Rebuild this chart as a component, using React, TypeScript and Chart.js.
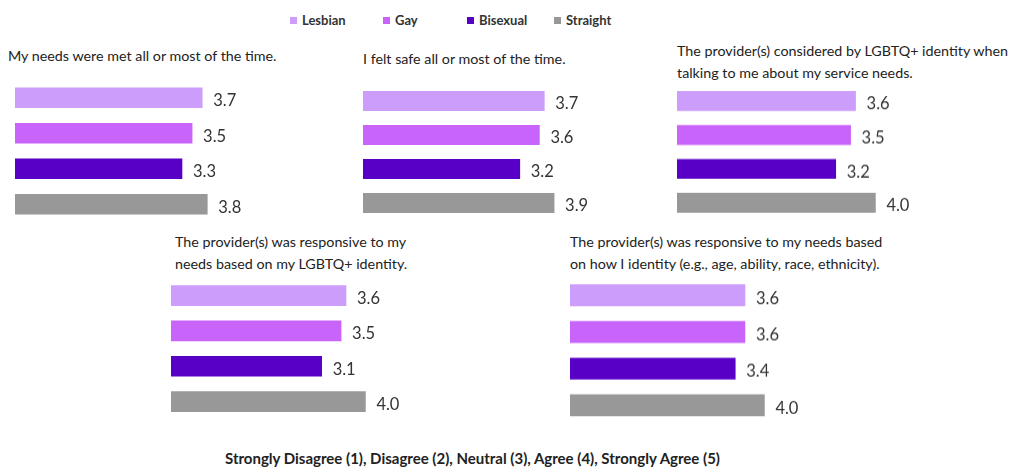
import React, { useEffect, useRef } from "react";
import { Chart, registerables } from "chart.js";

Chart.register(...registerables);

const categories = ["Lesbian", "Gay", "Bisexual", "Straight"];
const seriesColors = ["#CC9DFB", "#C964FA", "#5800C6", "#989898"];

const title1 = ["My needs were met all or most of the time."];
const title2 = ["I felt safe all or most of the time."];
const title3 = ["The provider(s) considered by LGBTQ+ identity when", "talking to me about my service needs."];
const title4 = ["The provider(s) was responsive to my", "needs based on my LGBTQ+ identity."];
const title5 = ["The provider(s) was responsive to my needs based", "on how I identity (e.g., age, ability, race, ethnicity)."];

const values1 = [3.7, 3.5, 3.3, 3.8];
const values2 = [3.7, 3.6, 3.2, 3.9];
const values3 = [3.6, 3.5, 3.2, 4.0];
const values4 = [3.6, 3.5, 3.1, 4.0];
const values5 = [3.6, 3.6, 3.4, 4.0];

const scaleMax = 5;
const footerText = "Strongly Disagree (1), Disagree (2), Neutral (3), Agree (4), Strongly Agree (5)";

const FONT = "Lato, 'Open Sans', sans-serif";

type PanelProps = {
  values: number[];
  left: number;
  top: number;
  ppu: number;
  spacing: number;
  thickness: number;
};

const valueLabelPlugin = {
  id: "valueLabels",
  afterDatasetsDraw(chart: any) {
    const ctx = chart.ctx;
    const meta = chart.getDatasetMeta(0);
    const data = chart.data.datasets[0].data as number[];
    ctx.save();
    ctx.font = `16.5px ${FONT}`;
    ctx.fillStyle = "#333333";
    ctx.textBaseline = "middle";
    ctx.textAlign = "left";
    meta.data.forEach((bar: any, i: number) => {
      ctx.fillText(Number(data[i]).toFixed(1), bar.x + 11, bar.y + 3);
    });
    ctx.restore();
  },
};

function Panel({ values, left, top, ppu, spacing, thickness }: PanelProps) {
  const ref = useRef<HTMLCanvasElement | null>(null);
  const width = Math.round(scaleMax * ppu);
  const height = spacing * 4;
  useEffect(() => {
    if (!ref.current) return;
    const chart = new Chart(ref.current, {
      type: "bar",
      data: {
        labels: categories,
        datasets: [
          {
            data: values,
            backgroundColor: seriesColors,
            borderWidth: 0,
            barThickness: thickness,
          },
        ],
      },
      options: {
        indexAxis: "y",
        animation: false,
        responsive: true,
        maintainAspectRatio: false,
        layout: { padding: 0 },
        scales: {
          x: { display: false, min: 0, max: scaleMax },
          y: { display: false },
        },
        plugins: {
          legend: { display: false },
          tooltip: { enabled: false },
        },
      },
      plugins: [valueLabelPlugin],
    });
    return () => chart.destroy();
  }, [values, thickness]);
  return (
    <div style={{ position: "absolute", left, top, width, height }}>
      <canvas ref={ref} />
    </div>
  );
}

function Title({ lines, left, top }: { lines: string[]; left: number; top: number }) {
  return (
    <div
      style={{
        position: "absolute",
        left,
        top,
        fontFamily: FONT,
        fontSize: 14.3,
        lineHeight: "21.5px",
        color: "#222222",
        whiteSpace: "nowrap",
      }}
    >
      {lines.map((l, i) => (
        <div key={i}>{l}</div>
      ))}
    </div>
  );
}

const legendX = [290, 383, 467, 554];

export default function App() {
  return (
    <div
      style={{
        position: "fixed",
        left: 0,
        top: 0,
        width: 1014,
        height: 468,
        background: "#ffffff",
        overflow: "hidden",
      }}
    >
      {categories.map((c, i) => (
        <div
          key={c}
          style={{
            position: "absolute",
            left: legendX[i],
            top: 11,
            height: 18,
            display: "flex",
            alignItems: "center",
            fontFamily: FONT,
            fontWeight: 700,
            fontSize: 13,
            color: "#333333",
            whiteSpace: "nowrap",
          }}
        >
          <span style={{ display: "inline-block", width: 7, height: 7, background: seriesColors[i], marginRight: 5 }} />
          {c}
        </div>
      ))}

      <Title lines={title1} left={8} top={45} />
      <Title lines={title2} left={363} top={48} />
      <Title lines={title3} left={677} top={40} />
      <Title lines={title4} left={175} top={231} />
      <Title lines={title5} left={570} top={231} />

      <Panel values={values1} left={15} top={80} ppu={50.5} spacing={35.5} thickness={20} />
      <Panel values={values2} left={363} top={84} ppu={49} spacing={34} thickness={19.5} />
      <Panel values={values3} left={677} top={84} ppu={49.5} spacing={33.7} thickness={19} />
      <Panel values={values4} left={171} top={278} ppu={48.5} spacing={35.3} thickness={20} />
      <Panel values={values5} left={570} top={277} ppu={48.5} spacing={36.4} thickness={21} />

      <div
        style={{
          position: "absolute",
          left: 225,
          top: 449,
          fontFamily: FONT,
          fontWeight: 700,
          fontSize: 15,
          lineHeight: "18px",
          color: "#222222",
          whiteSpace: "nowrap",
        }}
      >
        {footerText}
      </div>
    </div>
  );
}
